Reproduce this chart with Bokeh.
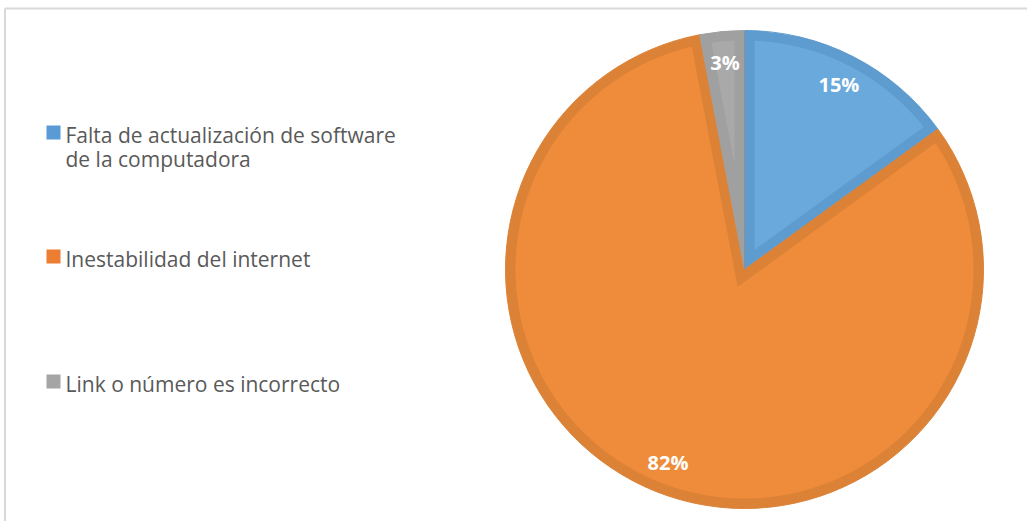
import math
import textwrap
from bokeh.plotting import figure
from bokeh.models import Range1d, ColumnDataSource
from bokeh.core.properties import value
from bokeh.embed import file_html
from bokeh.resources import INLINE

# ---------------- data ----------------
categories = [
    "Falta de actualización de software de la computadora",
    "Inestabilidad del internet",
    "Link o número es incorrecto",
]
percentages = [15, 82, 3]
pct_labels = ["15%", "82%", "3%"]

# ---------------- styles ----------------
fill_colors = ["#69A9DC", "#EF8C3B", "#A9A9A9"]
band_colors = ["#5E9BCE", "#DC8236", "#A0A0A0"]
legend_colors = ["#5B9BD5", "#ED7D31", "#A5A5A5"]
text_gray = "#595959"

# ---------------- layout (pixels) ----------------
W, H = 1027, 521
CX, CY, R, BAND = 744, 252, 239, 10
LABEL_R = 0.87
legend_baselines = [387, 263, 138]
LINE_H = 24
SQ_X, SQ = 53, 14
SQ_DY = 2
TXT_X = 65

p = figure(width=W, height=H, x_range=Range1d(0, W), y_range=Range1d(0, H),
           output_backend="svg", toolbar_location=None, min_border=0,
           x_axis_location=None, y_axis_location=None)
p.grid.visible = False
p.outline_line_color = None
p.background_fill_color = "white"
p.border_fill_color = "white"

# chart border (top and left visible)
p.segment(x0=[4.5, 4.5], y0=[513, 513], x1=[W, 4.5], y1=[513, 0],
          line_color="#D9D9D9", line_width=2)

total = float(sum(percentages))
starts, ends = [], []
acc = 0.0
for v in percentages:
    starts.append(acc / total * 2 * math.pi)
    acc += v
    ends.append(acc / total * 2 * math.pi)

# outer wedges (band colour) - compass angles clockwise from top
src = ColumnDataSource(dict(
    start=[math.pi / 2 - s for s in starts],
    end=[math.pi / 2 - e for e in ends],
    fill=band_colors,
))
p.wedge(x=CX, y=CY, radius=R, start_angle="start", end_angle="end",
        direction="clock", fill_color="fill", line_color="fill", line_width=1,
        source=src)

# inset lighter regions
def pt(theta, r, ox=CX, oy=CY):
    return ox + r * math.sin(theta), oy + r * math.cos(theta)

xs_all, ys_all = [], []
for s, e in zip(starts, ends):
    phi = e - s
    m = (s + e) / 2
    d = BAND / math.sin(phi / 2)
    px, py = pt(m, d)
    Rp = R - BAND
    t = math.sqrt(Rp ** 2 - BAND ** 2)
    delta = math.atan2(BAND, t)
    a0, a1 = s + delta, e - delta
    n = max(4, int((a1 - a0) / 0.01))
    xs, ys = [px], [py]
    for k in range(n + 1):
        a = a0 + (a1 - a0) * k / n
        x, y = pt(a, Rp)
        xs.append(x)
        ys.append(y)
    xs_all.append(xs)
    ys_all.append(ys)
p.patches(xs_all, ys_all, fill_color=fill_colors, line_color=None)

# thin separator between gray and blue slices
p.ray(x=[CX], y=[CY], length=R - 1, angle=[math.pi / 2], line_color="#7F7F7F",
      line_width=0.8, line_alpha=0.7)

# percentage labels
lx, ly = [], []
for s, e in zip(starts, ends):
    x, y = pt((s + e) / 2, LABEL_R * R)
    lx.append(x)
    ly.append(y)
p.text(x=lx, y=ly, text=pct_labels, text_align="center", text_baseline="middle",
       text_font=value("Open Sans"), text_font_style="bold",
       text_font_size="20px", text_color="white")

# legend
for cat, col, base in zip(categories, legend_colors, legend_baselines):
    lines = textwrap.wrap(cat, 34)
    p.rect(x=[SQ_X], y=[base + SQ_DY], width=SQ, height=SQ,
           fill_color=col, line_color=None)
    p.text(x=[TXT_X] * len(lines), y=[base - i * LINE_H for i in range(len(lines))],
           text=lines, text_align="left", text_baseline="middle",
           text_font=value("Open Sans"), text_font_size="21px",
           text_color=text_gray)

open("out.html", "w").write(file_html(p, INLINE))
